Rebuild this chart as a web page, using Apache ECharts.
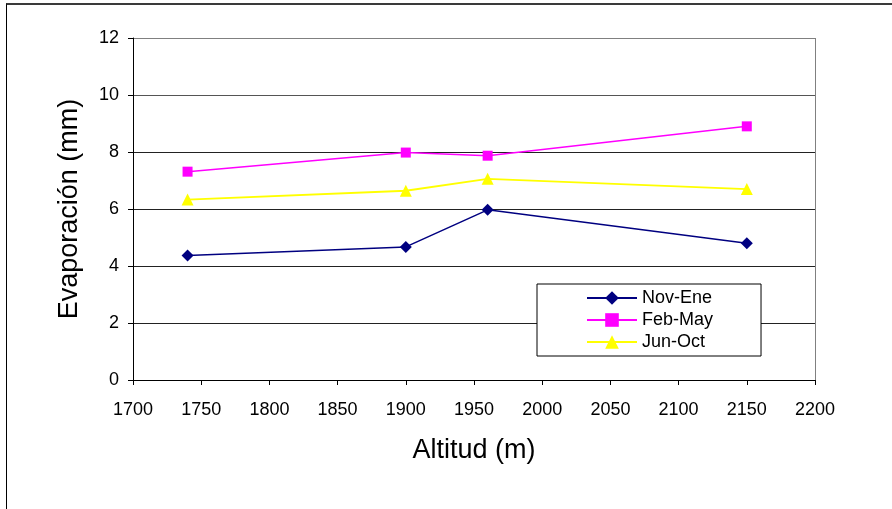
<!DOCTYPE html>
<html>
<head>
<meta charset="utf-8">
<script src="https://cdn.jsdelivr.net/npm/echarts@6/dist/echarts.min.js"></script>
<style>
html,body{margin:0;padding:0;background:#fff;}
#frame{position:absolute;left:6px;top:3px;width:900px;height:520px;border-top:2px solid #3a3a3a;border-left:1px solid #000;box-sizing:border-box;}
#chart{position:absolute;left:0;top:0;width:892px;height:509px;}
</style>
</head>
<body>
<div id="frame"></div>
<div id="chart"></div>
<script>
const altitudes = [1740, 1900, 1960, 2150];
const novEne = [4.37, 4.67, 5.97, 4.80];
const febMay = [7.31, 7.98, 7.87, 8.90];
const junOct = [6.33, 6.64, 7.06, 6.70];
const seriesNames = ['Nov-Ene', 'Feb-May', 'Jun-Oct'];
const xTitle = 'Altitud (m)';
const yTitle = 'Evaporación (mm)';

const font = 'Liberation Sans, Arial, sans-serif';
const pair = (vals) => altitudes.map((a, i) => [a, vals[i]]);

const chart = echarts.init(document.getElementById('chart'), null, {renderer: 'canvas'});
const xSplitColors = [];
for (let i = 0; i < 10; i++) xSplitColors.push('rgba(0,0,0,0)');
xSplitColors.push('#808080');

chart.setOption({
  animation: false,
  backgroundColor: 'transparent',
  grid: {left: 133, top: 38, right: 77, bottom: 129, containLabel: false},
  legend: {
    orient: 'vertical',
    left: 537, top: 284,
    padding: [5, 48, 5, 49],
    itemWidth: 50, itemHeight: 17, itemGap: 4,
    borderColor: '#000', borderWidth: 1,
    backgroundColor: '#fff',
    textStyle: {fontFamily: font, fontSize: 18, color: '#000'},
    data: seriesNames
  },
  xAxis: {
    type: 'value', min: 1700, max: 2200, interval: 50,
    name: xTitle, nameLocation: 'middle', nameGap: 57,
    nameTextStyle: {fontFamily: font, fontSize: 27, color: '#000'},
    axisLine: {show: true, onZero: false, lineStyle: {color: '#000', width: 1}},
    axisTick: {show: true, length: 5, lineStyle: {color: '#000'}},
    axisLabel: {fontFamily: font, fontSize: 18, color: '#000', margin: 21, formatter: (v) => String(v)},
    splitLine: {show: true, lineStyle: {color: xSplitColors, width: 1}}
  },
  yAxis: {
    type: 'value', min: 0, max: 12, interval: 2,
    name: yTitle, nameLocation: 'middle', nameGap: 50,
    nameTextStyle: {fontFamily: font, fontSize: 27, color: '#000'},
    axisLine: {show: true, lineStyle: {color: '#000', width: 1}},
    axisTick: {show: true, length: 5, lineStyle: {color: '#000'}},
    axisLabel: {fontFamily: font, fontSize: 18, color: '#000', margin: 14},
    splitLine: {show: true, lineStyle: {color: ['#000','#222','#222','#222','#222','#555','#808080'], width: 1}}
  },
  series: [
    {name: seriesNames[0], type: 'line', data: pair(novEne), symbol: 'diamond', symbolSize: 12,
     itemStyle: {color: '#000080'}, lineStyle: {color: '#000080', width: 1.5}},
    {name: seriesNames[1], type: 'line', data: pair(febMay), symbol: 'rect', symbolSize: 10,
     itemStyle: {color: '#FF00FF'}, lineStyle: {color: '#FF00FF', width: 1.5}},
    {name: seriesNames[2], type: 'line', data: pair(junOct), symbol: 'triangle', symbolSize: 12,
     itemStyle: {color: '#FFFF00'}, lineStyle: {color: '#FFFF00', width: 1.8}}
  ]
});
</script>
</body>
</html>
